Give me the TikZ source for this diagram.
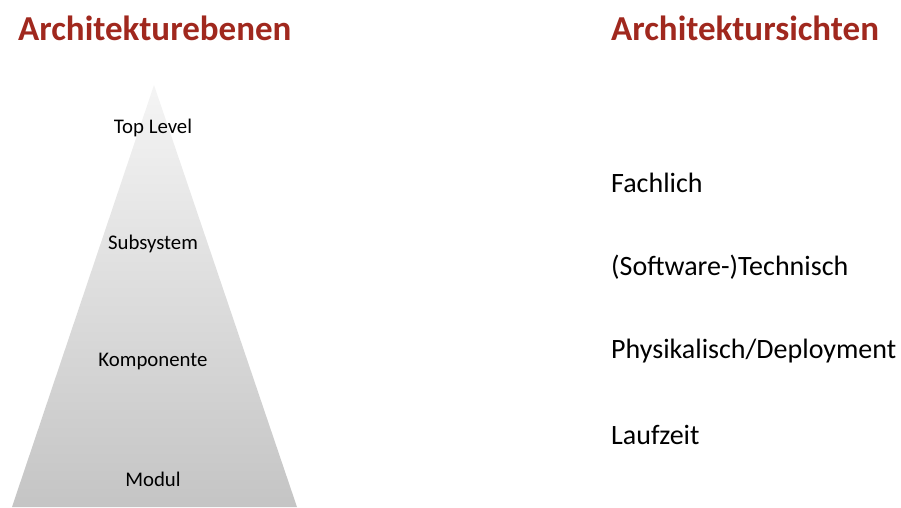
\documentclass[tikz,border=0pt]{standalone}
\usepackage{fontspec}
\setmainfont{Carlito}
\definecolor{titlered}{HTML}{A0281E}
\begin{document}
\begin{tikzpicture}[x=1pt,y=-1pt,
  title/.style={anchor=base west,font=\fontsize{35}{35}\selectfont\bfseries,text=titlered,inner sep=0pt},
  level/.style={font=\fontsize{20.8}{21}\selectfont,inner sep=0pt},
  view/.style={anchor=west,font=\fontsize{28}{28}\selectfont,inner sep=0pt}]
  \useasboundingbox (0,0) rectangle (901,507);
  % pyramid of architecture levels
  \shade[top color=black!4,bottom color=black!23] (154,85) -- (297,507) -- (12,507) -- cycle;
  \node[title] (hl) at (18,40) {Architekturebenen};
  \node[title] (hr) at (611,40) {Architektursichten};
  \node[level] (top) at (153,128) {Top Level};
  \node[level] (sub) at (153,244) {Subsystem};
  \node[level] (komp) at (153,361) {Komponente};
  \node[level] (mod) at (153,479) {Modul};
  \node[view] (fach) at (611,183) {Fachlich};
  \node[view] (tech) at (611,267) {(Software-)Technisch};
  \node[view] (phys) at (611,351) {Physikalisch/Deployment};
  \node[view] (lauf) at (611,435) {Laufzeit};
\end{tikzpicture}
\end{document}
